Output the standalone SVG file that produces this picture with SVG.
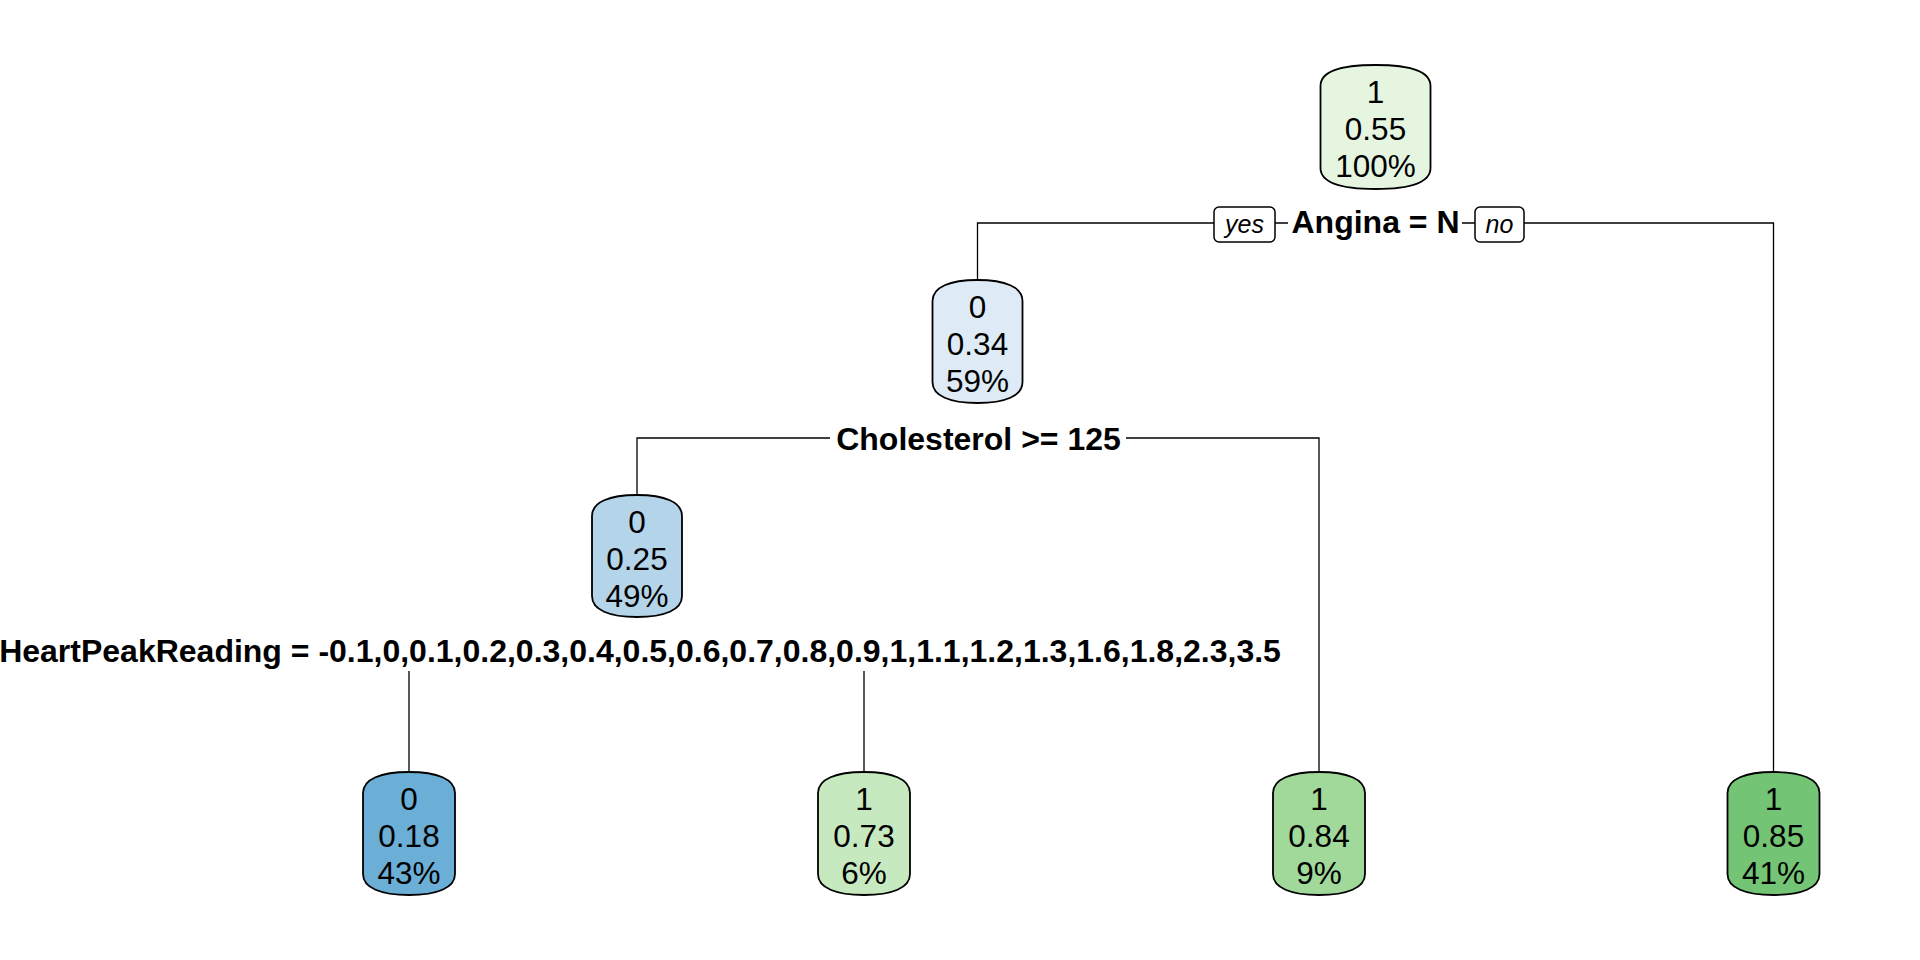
<svg xmlns="http://www.w3.org/2000/svg" width="1920" height="960" viewBox="0 0 1920 960">
<style>
.bg{fill:#ffffff}
.conn{fill:none;stroke:#000;stroke-width:1.3}
.node{stroke:#000;stroke-width:1.8}
.nt{font-family:"Liberation Sans",Arial,sans-serif;font-size:31.5px;text-anchor:middle;fill:#000}
.st{font-family:"Liberation Sans",Arial,sans-serif;font-size:32px;font-weight:bold;text-anchor:middle;fill:#000}
.yn{fill:#fff;stroke:#000;stroke-width:1.5}
.ynt{font-family:"Liberation Sans",Arial,sans-serif;font-size:25px;font-style:italic;text-anchor:middle;fill:#000}
.lbg{fill:#fff}
</style>
<rect class="bg" x="0" y="0" width="1920" height="960"/>
<g id="connectors">
<path class="conn" d="M977.5,280 V223 H1773.5 V772"/>
<path class="conn" d="M637,495 V438 H1319 V772"/>
<path class="conn" d="M409,772 V650 H864 V772"/>
</g>
<g id="split-angina">
<rect class="lbg" x="1288" y="206" width="174" height="36"/>
<text class="st" x="1375.5" y="233">Angina = N</text>
<rect class="yn" x="1214" y="207" width="61" height="35" rx="5"/>
<text class="ynt" x="1244.5" y="233">yes</text>
<rect class="yn" x="1475" y="207" width="49" height="35" rx="5"/>
<text class="ynt" x="1499.5" y="233">no</text>
</g>
<g id="split-cholesterol">
<rect class="lbg" x="830" y="422" width="296" height="38"/>
<text class="st" x="978.5" y="450">Cholesterol &gt;= 125</text>
</g>
<g id="split-heartpeak">
<rect class="lbg" x="-10" y="628" width="1297" height="43"/>
<text class="st" x="640" y="662">HeartPeakReading = -0.1,0,0.1,0.2,0.3,0.4,0.5,0.6,0.7,0.8,0.9,1,1.1,1.2,1.3,1.6,1.8,2.3,3.5</text>
</g>
<g id="node1">
<path class="node" fill="#E5F5E0" d="M1320.5,86 C1320.5,72 1340,65 1375.5,65 C1411,65 1430.5,72 1430.5,86 L1430.5,168 C1430.5,182 1411,189 1375.5,189 C1340,189 1320.5,182 1320.5,168 Z"/>
<text class="nt" x="1375.5" y="103">1</text>
<text class="nt" x="1375.5" y="140">0.55</text>
<text class="nt" x="1375.5" y="177">100%</text>
</g>
<g id="node2">
<path class="node" fill="#DEEBF7" d="M932.5,301 C932.5,287 950,280 977.5,280 C1005,280 1022.5,287 1022.5,301 L1022.5,382 C1022.5,396 1005,403 977.5,403 C950,403 932.5,396 932.5,382 Z"/>
<text class="nt" x="977.5" y="318">0</text>
<text class="nt" x="977.5" y="355">0.34</text>
<text class="nt" x="977.5" y="392">59%</text>
</g>
<g id="node4">
<path class="node" fill="#B4D4E9" d="M592,516 C592,502 609.5,495 637,495 C664.5,495 682,502 682,516 L682,596 C682,610 664.5,617 637,617 C609.5,617 592,610 592,596 Z"/>
<text class="nt" x="637" y="533">0</text>
<text class="nt" x="637" y="570">0.25</text>
<text class="nt" x="637" y="607">49%</text>
</g>
<g id="node8">
<path class="node" fill="#6BAED6" d="M363,793 C363,779 381,772 409,772 C437,772 455,779 455,793 L455,874 C455,888 437,895 409,895 C381,895 363,888 363,874 Z"/>
<text class="nt" x="409" y="810">0</text>
<text class="nt" x="409" y="847">0.18</text>
<text class="nt" x="409" y="884">43%</text>
</g>
<g id="node9">
<path class="node" fill="#C7E9C0" d="M818,793 C818,779 836,772 864,772 C892,772 910,779 910,793 L910,874 C910,888 892,895 864,895 C836,895 818,888 818,874 Z"/>
<text class="nt" x="864" y="810">1</text>
<text class="nt" x="864" y="847">0.73</text>
<text class="nt" x="864" y="884">6%</text>
</g>
<g id="node5">
<path class="node" fill="#A1D99B" d="M1273,793 C1273,779 1291,772 1319,772 C1347,772 1365,779 1365,793 L1365,874 C1365,888 1347,895 1319,895 C1291,895 1273,888 1273,874 Z"/>
<text class="nt" x="1319" y="810">1</text>
<text class="nt" x="1319" y="847">0.84</text>
<text class="nt" x="1319" y="884">9%</text>
</g>
<g id="node3">
<path class="node" fill="#74C476" d="M1727.5,793 C1727.5,779 1745.5,772 1773.5,772 C1801.5,772 1819.5,779 1819.5,793 L1819.5,874 C1819.5,888 1801.5,895 1773.5,895 C1745.5,895 1727.5,888 1727.5,874 Z"/>
<text class="nt" x="1773.5" y="810">1</text>
<text class="nt" x="1773.5" y="847">0.85</text>
<text class="nt" x="1773.5" y="884">41%</text>
</g>
</svg>
